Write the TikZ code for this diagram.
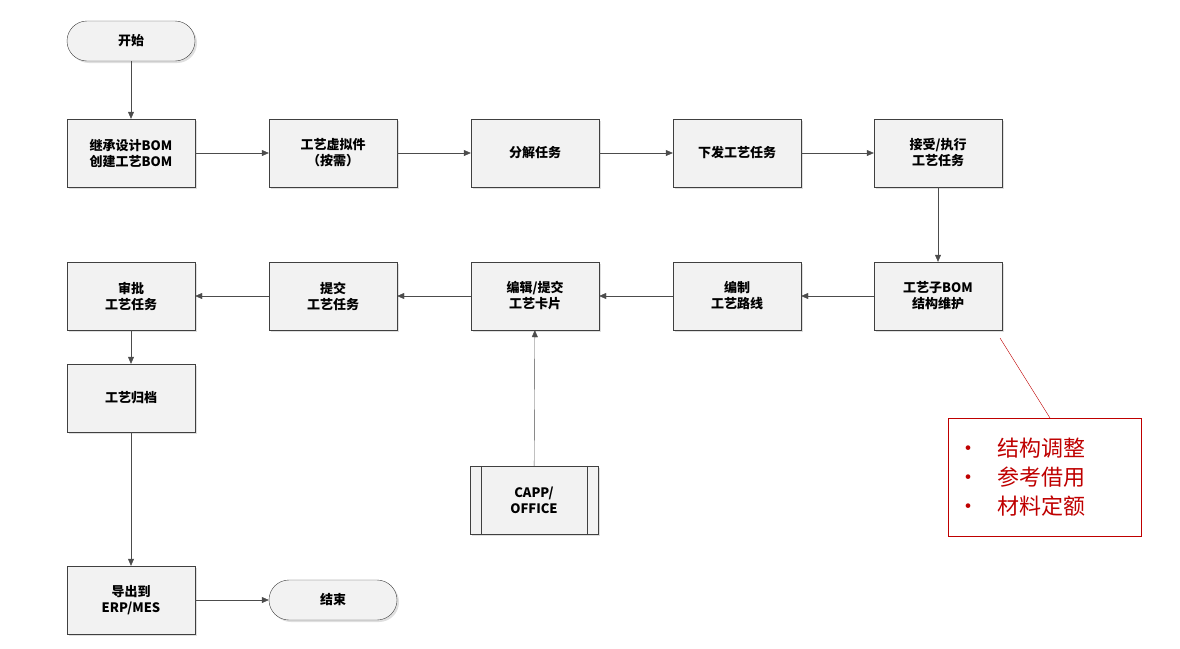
\documentclass[tikz,border=0pt]{standalone}
\usepackage{fontspec}
\newfontfamily\cjk{Noto Sans CJK SC}
\usetikzlibrary{arrows.meta,shadows}
\begin{document}
\begin{tikzpicture}[x=1pt,y=-1pt,
 box/.style={draw=black!75,fill=black!5,minimum width=128pt,minimum height=68pt,align=center,font=\cjk\bfseries\fontsize{13}{16}\selectfont,drop shadow={opacity=0.25,shadow xshift=2pt,shadow yshift=-2pt}},
 term/.style={draw=black!75,fill=black!5,rounded corners=20pt,minimum width=128pt,minimum height=40pt,font=\cjk\bfseries\fontsize{13}{16}\selectfont,drop shadow={opacity=0.25,shadow xshift=2pt,shadow yshift=-2pt}},
 arr/.style={draw=black!70,-{Triangle[length=7pt,width=6pt]}}]
\useasboundingbox (0,0) rectangle (1180,648);
\node[term] (s) at (131,41) {开始};
\node[box] (a1) at (131,153) {继承设计BOM\\创建工艺BOM};
\node[box] (a2) at (333,153) {工艺虚拟件\\（按需）};
\node[box] (a3) at (535,153) {分解任务};
\node[box] (a4) at (737,153) {下发工艺任务};
\node[box] (a5) at (938,153) {接受/执行\\工艺任务};
\node[box] (b5) at (938,296) {工艺子BOM\\结构维护};
\node[box] (b4) at (737,296) {编制\\工艺路线};
\node[box] (b3) at (535,296) {编辑/提交\\工艺卡片};
\node[box] (b2) at (333,296) {提交\\工艺任务};
\node[box] (b1) at (131,296) {审批\\工艺任务};
\node[box] (c1) at (131,398) {工艺归档};
\node[box] (d1) at (131,600) {导出到\\ERP/MES};
\node[term] (e) at (333,600) {结束};
\node[box] (cp) at (534,500) {CAPP/\\OFFICE};
\draw[black!75] ([xshift=11pt]cp.north west) -- ([xshift=11pt]cp.south west)
 ([xshift=-11pt]cp.north east) -- ([xshift=-11pt]cp.south east);
\draw[arr] (s) -- (a1);
\draw[arr] (a1) -- (a2);
\draw[arr] (a2) -- (a3);
\draw[arr] (a3) -- (a4);
\draw[arr] (a4) -- (a5);
\draw[arr] (a5) -- (b5);
\draw[arr] (b5) -- (b4);
\draw[arr] (b4) -- (b3);
\draw[arr] (b3) -- (b2);
\draw[arr] (b2) -- (b1);
\draw[arr] (b1) -- (c1);
\draw[arr] (c1) -- (d1);
\draw[arr] (d1) -- (e);
\draw[arr] (cp) -- (b3);
\node[draw=red!75!black,fill=white,minimum width=193pt,minimum height=118pt,anchor=north west,inner sep=0pt] (r) at (948,418) {};
\node[anchor=west,align=left,text=red!75!black,font=\cjk\fontsize{22}{29}\selectfont] (rt) at (954,477)
 {•\hspace{18pt}结构调整\\•\hspace{18pt}参考借用\\•\hspace{18pt}材料定额};
\coordinate (cc) at (1000,338);
\draw[red!75!black] (cc) -- (r.north -| 1050,0);
\end{tikzpicture}
\end{document}
